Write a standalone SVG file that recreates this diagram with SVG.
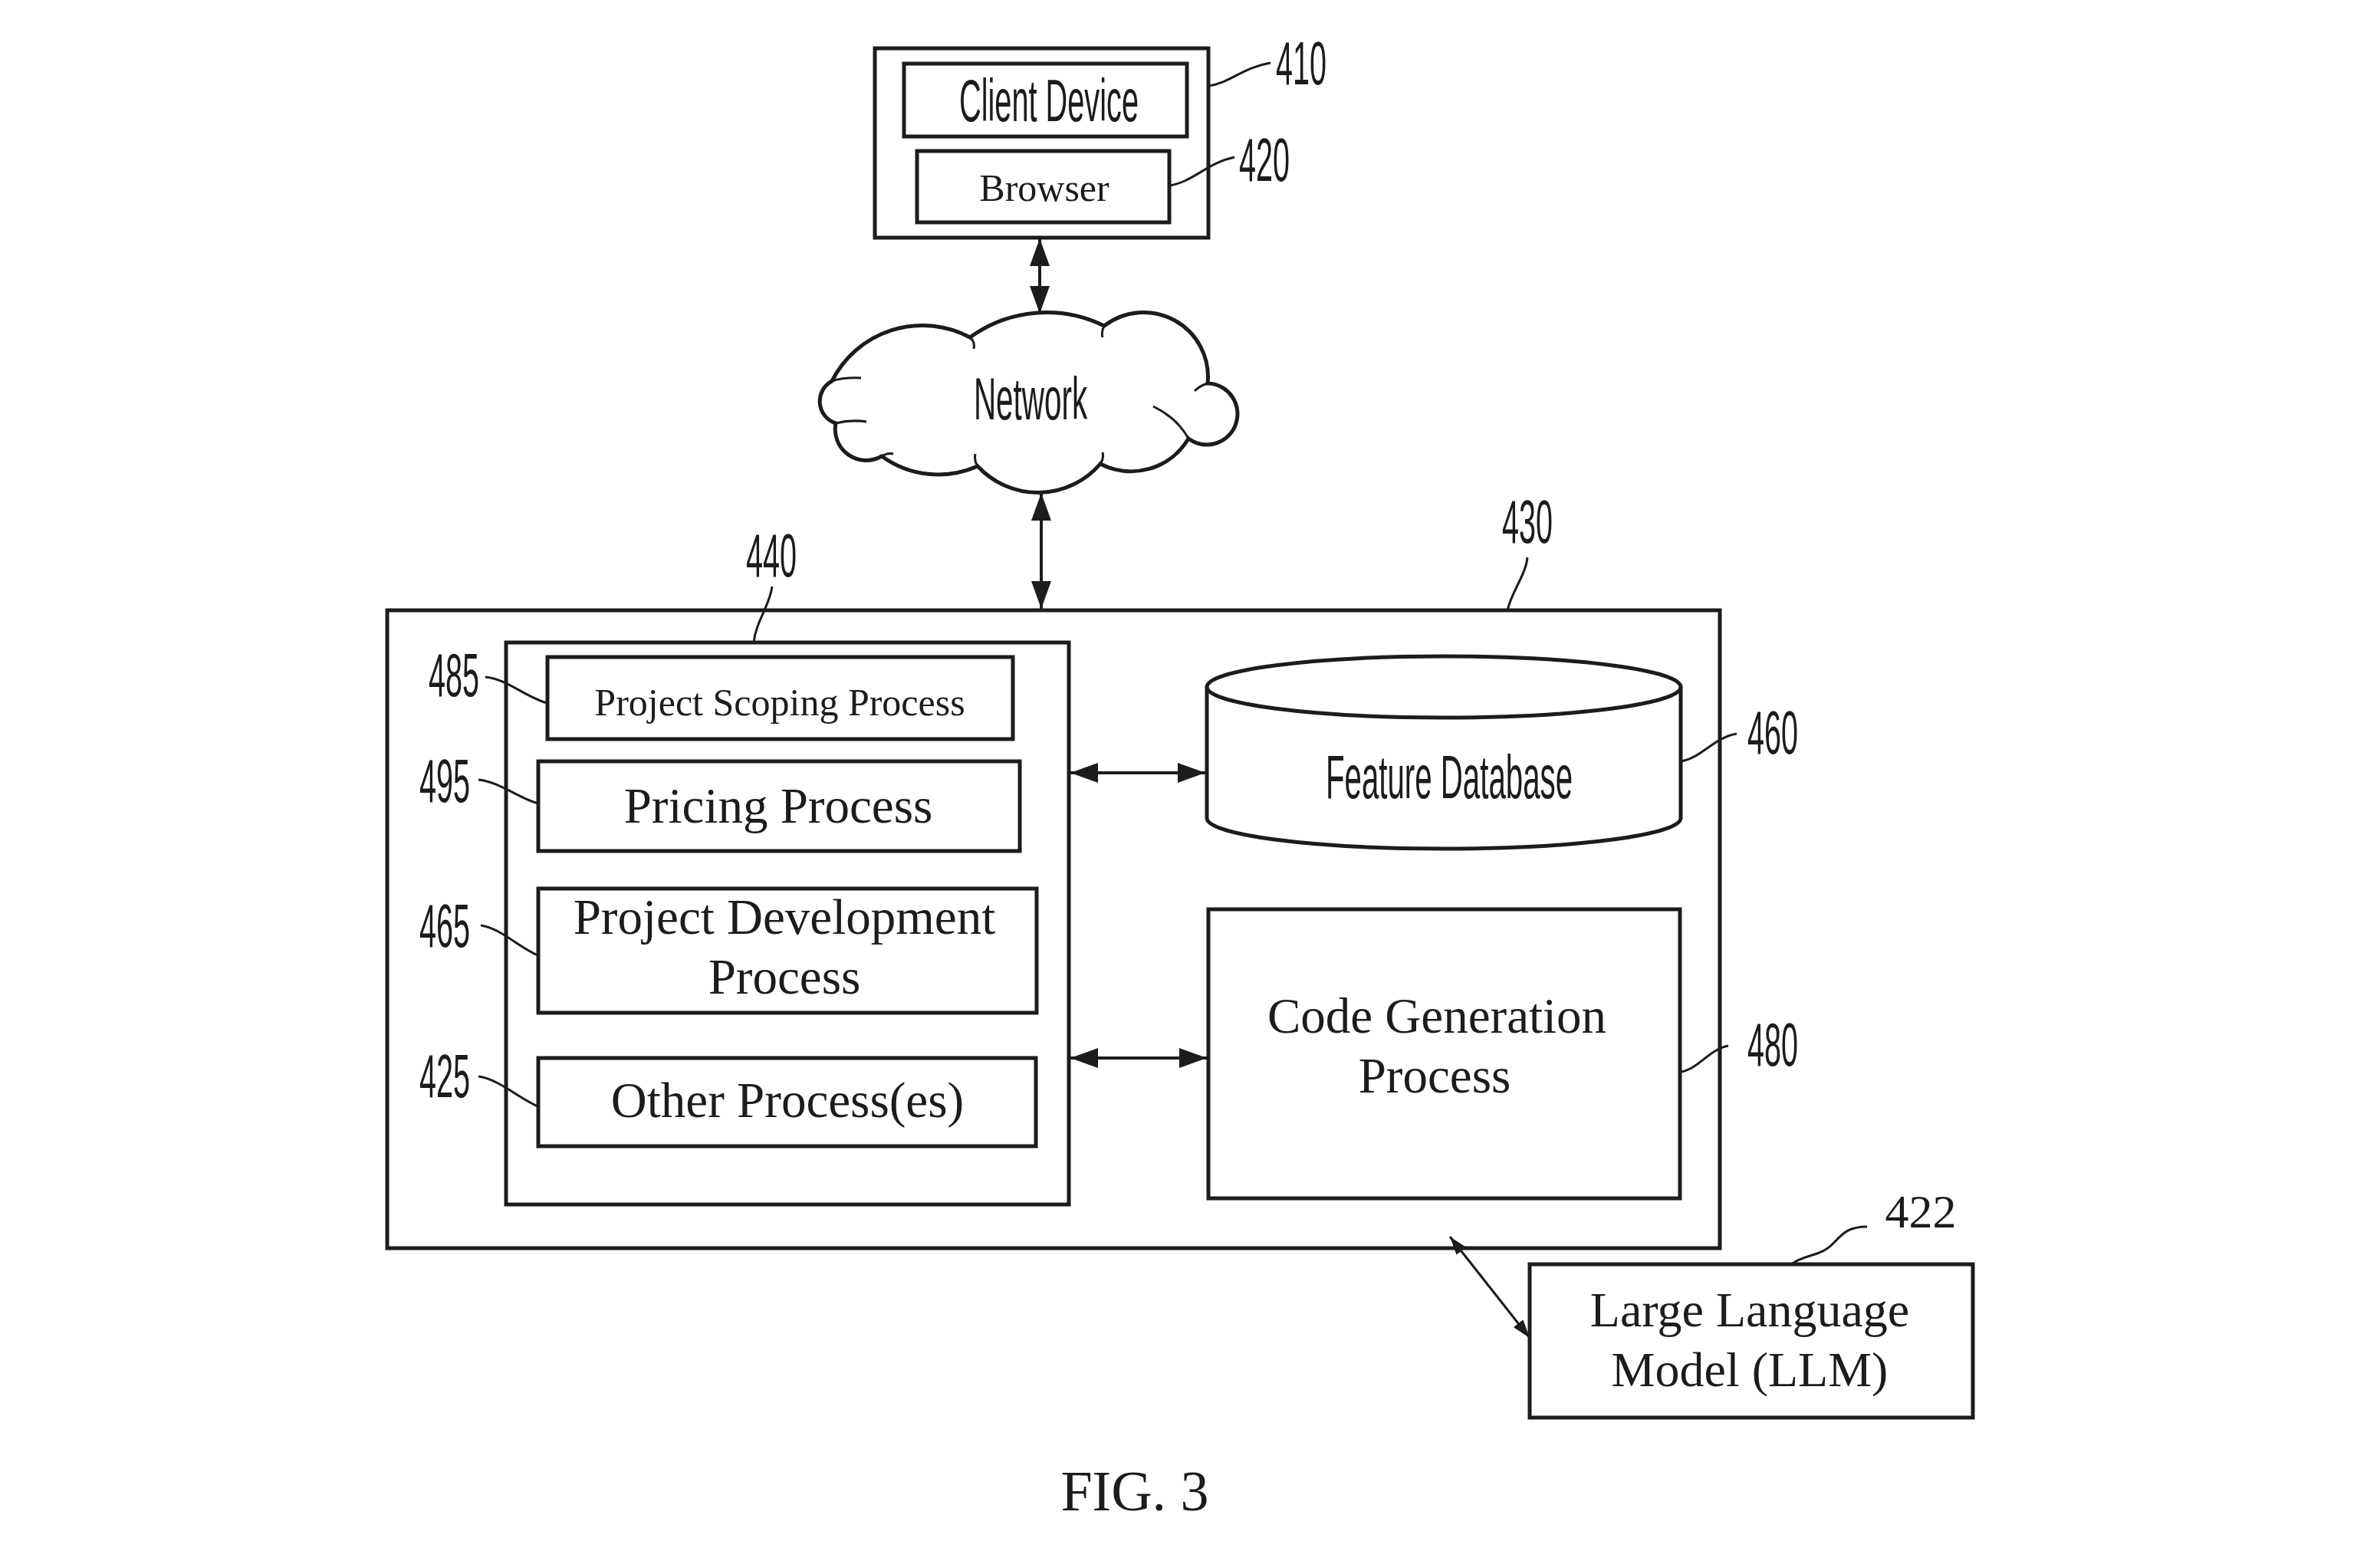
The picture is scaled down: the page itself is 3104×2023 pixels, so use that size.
<svg xmlns="http://www.w3.org/2000/svg" width="3104" height="2023" viewBox="0 0 3104 2023">
<style>
.box{fill:none;stroke:#1c1c1c;stroke-width:5}
.ln{fill:none;stroke:#1c1c1c;stroke-width:4}
.ld{fill:none;stroke:#1c1c1c;stroke-width:3}
.sans{font-family:"Liberation Sans",Arial,sans-serif;fill:#1c1c1c;text-anchor:middle}
.num{font-family:"Liberation Sans",Arial,sans-serif;fill:#1c1c1c;text-anchor:middle;font-size:80px}
.ser{font-family:"Liberation Serif","Times New Roman",serif;fill:#1c1c1c;text-anchor:middle}
</style>
<defs>
<marker id="ah" viewBox="0 0 36 26" refX="36" refY="13" markerWidth="36" markerHeight="26" markerUnits="userSpaceOnUse" orient="auto-start-reverse">
<path d="M0,0 L36,13 L0,26 z" fill="#1c1c1c"/>
</marker>
<marker id="ahs" viewBox="0 0 24 16" refX="24" refY="8" markerWidth="24" markerHeight="16" markerUnits="userSpaceOnUse" orient="auto-start-reverse">
<path d="M0,0 L24,8 L0,16 z" fill="#1c1c1c"/>
</marker>
</defs>
<rect width="3104" height="2023" fill="#ffffff"/>

<g id="client-device-410">
<rect class="box" x="1141" y="63" width="435" height="247"/>
<rect class="box" x="1179" y="83" width="369" height="95"/>
<text class="sans" font-size="77" transform="translate(1368,158) scale(0.516,1)">Client Device</text>
<text class="num" transform="translate(1697,110) scale(0.495,1)">410</text>
<path class="ld" d="M1576,112 C1605,108 1620,88 1657,82"/>
</g>

<g id="browser-420">
<rect class="box" x="1196" y="197" width="329" height="93"/>
<text class="ser" x="1362" y="262" font-size="50">Browser</text>
<text class="num" transform="translate(1649,236) scale(0.495,1)">420</text>
<path class="ld" d="M1525,242 C1555,238 1575,212 1610,205"/>
</g>

<g id="network">
<path class="box" d="M1085,497 A132,132 0 0 1 1265,440 A170,170 0 0 1 1440,425 A84,84 0 0 1 1575,500 A40,40 0 1 1 1550,572 A87,87 0 0 1 1435,605 A107,107 0 0 1 1275,608 A125,125 0 0 1 1150,595 A40.5,40.5 0 0 1 1090,552 A30,30 0 0 1 1085,497 Z"/>
<path class="ld" d="M1265,440 Q1272,446 1270,455 M1440,425 Q1436,432 1438,440 M1575,500 Q1565,503 1558,510 M1504,530 Q1535,545 1550,572 M1435,605 Q1440,598 1438,590 M1275,608 Q1270,600 1272,592 M1150,595 Q1158,590 1165,592 M1090,552 Q1110,547 1130,550 M1085,497 Q1100,492 1123,493"/>
<text class="sans" font-size="77" transform="translate(1344,547) scale(0.525,1)">Network</text>
</g>

<g id="server-430">
<rect class="box" x="505" y="796" width="1738" height="832"/>
<text class="num" transform="translate(1992,708) scale(0.495,1)">430</text>
<path class="ld" d="M1992,727 C1990,750 1972,770 1966,796"/>
</g>

<g id="processes-440">
<rect class="box" x="660" y="838" width="734" height="733"/>
<text class="num" transform="translate(1006,752) scale(0.495,1)">440</text>
<path class="ld" d="M1007,765 C1004,790 986,810 983,838"/>
</g>

<g id="project-scoping-485">
<rect class="box" x="714" y="857" width="607" height="107"/>
<text class="ser" x="1017" y="933" font-size="50">Project Scoping Process</text>
<text class="num" transform="translate(592,908) scale(0.495,1)">485</text>
<path class="ld" d="M633,883 C660,885 690,912 714,917"/>
</g>

<g id="pricing-495">
<rect class="box" x="702" y="993" width="628" height="117"/>
<text class="ser" x="1015" y="1073" font-size="65">Pricing Process</text>
<text class="num" transform="translate(580,1046) scale(0.495,1)">495</text>
<path class="ld" d="M624,1017 C650,1019 680,1043 702,1048"/>
</g>

<g id="project-development-465">
<rect class="box" x="702" y="1159" width="650" height="162"/>
<text class="ser" x="1023" y="1218" font-size="65">Project Development</text>
<text class="ser" x="1023" y="1296" font-size="65">Process</text>
<text class="num" transform="translate(580,1235) scale(0.495,1)">465</text>
<path class="ld" d="M627,1207 C652,1210 680,1238 702,1246"/>
</g>

<g id="other-processes-425">
<rect class="box" x="702" y="1380" width="649" height="115"/>
<text class="ser" x="1027" y="1457" font-size="65">Other Process(es)</text>
<text class="num" transform="translate(580,1431) scale(0.495,1)">425</text>
<path class="ld" d="M624,1404 C650,1407 680,1435 702,1443"/>
</g>

<g id="feature-database-460">
<path class="box" d="M1574,896 L1574,1067 A309,40 0 0 0 2192,1067 L2192,896"/>
<ellipse class="box" cx="1883" cy="896" rx="309" ry="40"/>
<text class="sans" font-size="80" transform="translate(1890,1041) scale(0.503,1)">Feature Database</text>
<text class="num" transform="translate(2312,983) scale(0.495,1)">460</text>
<path class="ld" d="M2193,993 C2220,988 2235,962 2265,957"/>
</g>

<g id="code-generation-480">
<rect class="box" x="1576" y="1186" width="615" height="377"/>
<text class="ser" x="1874" y="1347" font-size="65">Code Generation</text>
<text class="ser" x="1871" y="1425" font-size="65">Process</text>
<text class="num" transform="translate(2312,1390) scale(0.495,1)">480</text>
<path class="ld" d="M2193,1398 C2215,1394 2230,1368 2254,1364"/>
</g>

<g id="llm-422">
<rect class="box" x="1995" y="1649" width="578" height="200"/>
<text class="ser" x="2282" y="1730" font-size="64">Large Language</text>
<text class="ser" x="2282" y="1808" font-size="64">Model (LLM)</text>
<text class="ser" x="2505" y="1601" font-size="62">422</text>
<path class="ld" d="M2435,1600 C2395,1600 2400,1625 2370,1635 C2355,1640 2345,1642 2338,1648"/>
</g>

<g id="connectors">
<line class="ln" x1="1356" y1="311" x2="1356" y2="409" marker-start="url(#ah)" marker-end="url(#ah)"/>
<line class="ln" x1="1358" y1="643" x2="1358" y2="794" marker-start="url(#ah)" marker-end="url(#ah)"/>
<line class="ln" x1="1396" y1="1008" x2="1572" y2="1008" marker-start="url(#ah)" marker-end="url(#ah)"/>
<line class="ln" x1="1396" y1="1380" x2="1574" y2="1380" marker-start="url(#ah)" marker-end="url(#ah)"/>
<line class="ld" x1="1891" y1="1613" x2="1995" y2="1745" marker-start="url(#ahs)" marker-end="url(#ahs)"/>
</g>

<text class="ser" x="1480" y="1970" font-size="74">FIG. 3</text>
</svg>
